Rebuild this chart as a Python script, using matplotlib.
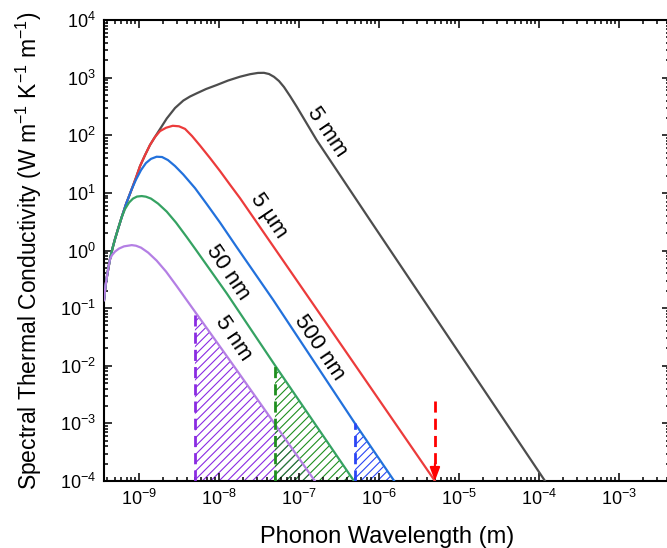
import numpy as np
import matplotlib.pyplot as plt
from matplotlib.ticker import LogLocator, NullFormatter

plt.rcParams['font.family'] = ['Liberation Sans', 'DejaVu Sans']
plt.rcParams['mathtext.fontset'] = 'custom'
plt.rcParams['mathtext.rm'] = 'Liberation Sans'
plt.rcParams['mathtext.it'] = 'Liberation Sans:italic'
plt.rcParams['mathtext.bf'] = 'Liberation Sans:bold'
plt.rcParams['hatch.linewidth'] = 0.8

# phonon wavelength (m) and spectral thermal conductivity (W m-1 K-1 m-1)
lam_5nm = [3.65e-10, 3.81e-10, 3.98e-10, 4.16e-10, 4.34e-10, 4.60e-10, 5.01e-10, 5.62e-10,
           6.49e-10, 8.11e-10, 9.17e-10, 1.06e-9, 1.30e-9, 1.66e-9, 2.18e-9, 2.96e-9,
           3.87e-9, 5.0e-9, 1.37e-8, 4.34e-8, 1.58e-7]
k_5nm = [0.138, 0.241, 0.36, 0.515, 0.71, 0.832, 0.957, 1.08, 1.18, 1.24, 1.21, 1.12, 0.92,
         0.668, 0.43, 0.241, 0.143, 0.087, 0.0123, 1.28e-3, 1e-4]

lam_50nm = [3.65e-10, 3.81e-10, 3.98e-10, 4.16e-10, 4.34e-10, 4.67e-10, 5.01e-10, 5.46e-10,
            6.08e-10, 6.68e-10, 7.50e-10, 8.41e-10, 9.44e-10, 1.08e-9, 1.22e-9, 1.41e-9,
            1.73e-9, 2.22e-9, 2.90e-9, 3.95e-9, 5.16e-9, 7.02e-9, 1.25e-8, 5.0e-8, 4.87e-7]
k_50nm = [0.138, 0.241, 0.36, 0.515, 0.71, 1.10, 1.58, 2.35, 3.80, 5.23, 6.79, 7.96, 8.63,
          8.8, 8.59, 7.96, 6.52, 4.73, 3.05, 1.71, 1.02, 0.558, 0.18, 0.0102, 1e-4]

lam_500nm = [3.65e-10, 3.81e-10, 3.98e-10, 4.16e-10, 4.34e-10, 4.67e-10, 5.01e-10, 5.46e-10,
             6.08e-10, 6.88e-10, 8.11e-10, 9.17e-10, 1.06e-9, 1.22e-9, 1.41e-9, 1.66e-9,
             1.94e-9, 2.30e-9, 2.82e-9, 3.58e-9, 5.01e-9, 7.02e-9, 1.03e-8, 1.66e-8, 4.77e-8,
             5.0e-7, 1.55e-6]
k_500nm = [0.138, 0.241, 0.36, 0.515, 0.71, 1.10, 1.58, 2.35, 3.80, 6.40, 11.6, 17.0, 24.9,
           32.9, 38.9, 42.4, 41.9, 37.1, 29.2, 20.8, 12.1, 6.40, 3.05, 1.15, 0.138, 1e-3, 1e-4]

lam_5um = [3.65e-10, 3.81e-10, 3.98e-10, 4.16e-10, 4.34e-10, 4.67e-10, 5.01e-10, 5.46e-10,
           6.08e-10, 6.88e-10, 8.11e-10, 9.17e-10, 1.03e-9, 1.19e-9, 1.37e-9, 1.58e-9,
           1.83e-9, 2.18e-9, 2.64e-9, 3.16e-9, 3.76e-9, 4.60e-9, 5.79e-9, 7.72e-9, 1.03e-8,
           1.37e-8, 1.83e-8, 1.66e-7, 5.0e-6]
k_5um = [0.138, 0.241, 0.36, 0.515, 0.71, 1.10, 1.58, 2.35, 3.80, 6.40, 11.6, 18.4, 29.2,
         45.3, 67.6, 93, 118, 135, 146, 143, 129, 96.9, 66.2, 40.2, 23.9, 13.9, 8.1, 0.096, 1e-4]

lam_5mm = [3.65e-10, 3.81e-10, 3.98e-10, 4.16e-10, 4.34e-10, 4.67e-10, 5.01e-10, 5.46e-10,
           6.08e-10, 6.88e-10, 8.11e-10, 9.17e-10, 1.03e-9, 1.19e-9, 1.37e-9, 1.58e-9,
           1.83e-9, 2.22e-9, 2.82e-9, 3.58e-9, 4.34e-9, 5.26e-9, 6.88e-9, 9.36e-9, 1.30e-8,
           1.83e-8, 2.44e-8, 3.07e-8, 3.65e-8, 4.22e-8, 4.87e-8, 5.62e-8, 6.49e-8, 7.72e-8,
           9.36e-8, 1.22e-7, 1.66e-7, 7.72e-7, 1.19e-4]
k_5mm = [0.138, 0.241, 0.36, 0.515, 0.71, 1.10, 1.58, 2.35, 3.80, 6.40, 11.6, 18.4, 29.2,
         45.3, 67.6, 93, 128, 195, 297, 400, 470, 534, 634, 744, 891, 1037, 1146, 1207, 1211,
         1155, 1032, 873, 687, 479, 313, 169, 82.5, 3.37, 1e-4]

# film thicknesses marked by dashed lines (m)
cut_lam = [5e-9, 5e-8, 5e-7]
red_arrow_lam = 5e-6

fig = plt.figure(figsize=(6.67, 5.48), dpi=100)
ax = fig.add_axes([104 / 667, 67 / 548, 566 / 667, 461 / 548])

curves = [
    (lam_5mm, k_5mm, '#4d4d4d'),
    (lam_5um, k_5um, '#ec3b3b'),
    (lam_500nm, k_500nm, '#2271dc'),
    (lam_50nm, k_50nm, '#35a262'),
    (lam_5nm, k_5nm, '#b47fe4'),
]

# hatched regions beyond the film thickness
hatch_sets = [
    (lam_5nm, k_5nm, cut_lam[0], '#8a2be2'),
    (lam_50nm, k_50nm, cut_lam[1], '#1f8f1f'),
    (lam_500nm, k_500nm, cut_lam[2], '#2a45f5'),
]
for lam, k, cut, col in hatch_sets:
    lam = np.array(lam)
    k = np.array(k)
    m = lam >= cut
    ax.fill_between(lam[m], 1e-4, k[m], facecolor='none', edgecolor=col,
                    hatch='////', linewidth=0, zorder=1)

for lam, k, col in curves:
    ax.plot(lam, k, color=col, lw=1.6, zorder=3)

for (lam, k, cut, col) in hatch_sets:
    top = np.interp(np.log10(cut), np.log10(lam), np.log10(k))
    ax.plot([cut, cut], [1e-4, 10 ** top], color=col, lw=2, ls=(0, (4, 2.2)), zorder=4)

# red arrow at 5 um
ax.plot([red_arrow_lam, red_arrow_lam], [2.4e-3, 1.8e-4], color='red', lw=2, ls=(0, (4, 2.2)), zorder=4)
ax.annotate('', xy=(red_arrow_lam, 1e-4), xytext=(red_arrow_lam, 2.0e-4),
            arrowprops=dict(arrowstyle='-|>,head_length=0.8,head_width=0.3', color='red',
                            lw=1.5, shrinkA=0, shrinkB=0), zorder=4)

# curve labels
labels = [
    ('5 mm', 2.24e-7, 114),
    ('5 µm', 4.22e-8, 3.95),
    ('500 nm', 1.78e-7, 0.021),
    ('50 nm', 1.30e-8, 0.42),
    ('5 nm', 1.50e-8, 0.030),
]
for txt, x, y in labels:
    ax.text(x, y, txt, rotation=-56, ha='center', va='center', fontsize=16,
            rotation_mode='anchor', zorder=5)

ax.set_xscale('log')
ax.set_yscale('log')
ax.set_xlim(3.65e-10, 4.34e-3)
ax.set_ylim(1e-4, 1e4)

ax.xaxis.set_major_locator(LogLocator(base=10, numticks=30))
ax.yaxis.set_major_locator(LogLocator(base=10, numticks=30))
ax.xaxis.set_minor_locator(LogLocator(base=10, subs=np.arange(2, 10), numticks=30))
ax.yaxis.set_minor_locator(LogLocator(base=10, subs=np.arange(2, 10), numticks=30))
ax.xaxis.set_minor_formatter(NullFormatter())
ax.yaxis.set_minor_formatter(NullFormatter())

ax.tick_params(which='both', direction='in', top=True, right=True, width=1.1)
ax.tick_params(which='major', length=5.5, labelsize=13, pad=6)
ax.tick_params(which='minor', length=2.8)
for s in ax.spines.values():
    s.set_linewidth(1.5)

ax.set_xlabel('Phonon Wavelength (m)', fontsize=17, labelpad=12)
ax.set_ylabel('Spectral Thermal Conductivity (W m$^{-1}$ K$^{-1}$ m$^{-1}$)', fontsize=16.5,
              labelpad=11)

fig.savefig('out.png', dpi=100)
